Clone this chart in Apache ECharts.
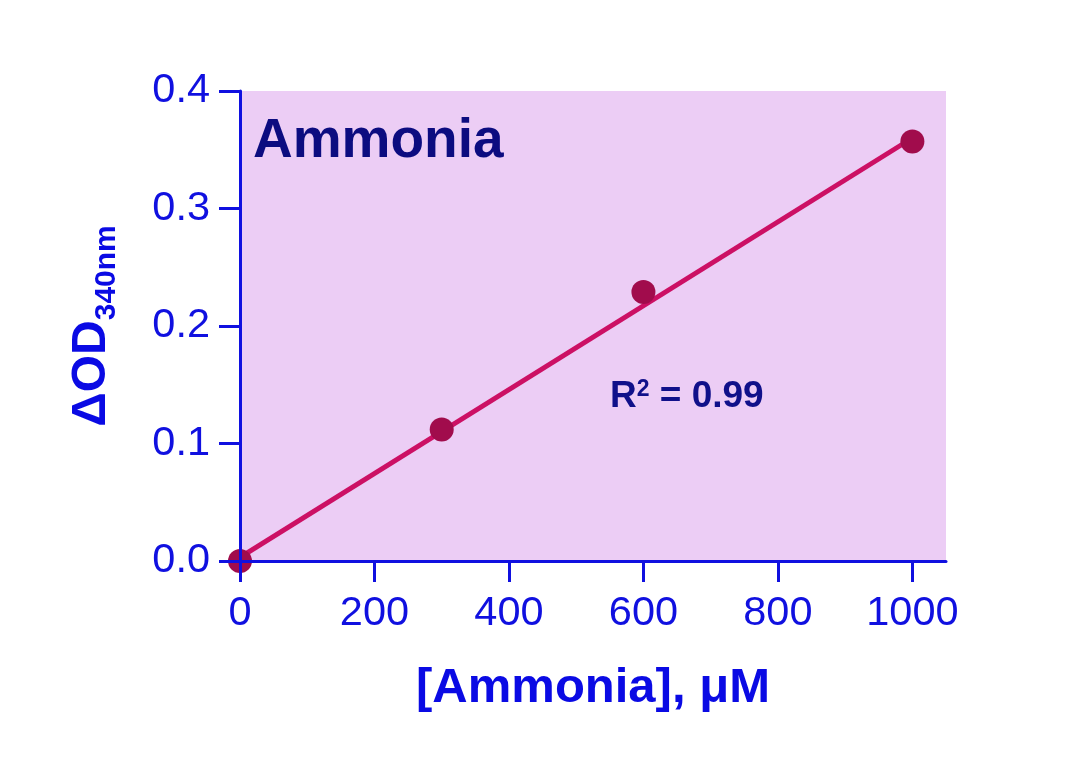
<!DOCTYPE html>
<html><head><meta charset="utf-8">
<script src="https://cdn.jsdelivr.net/npm/echarts@6/dist/echarts.min.js"></script>
<style>html,body{margin:0;padding:0;background:#fff}#c{width:1086px;height:761px}</style>
</head><body><div id="c"></div>
<script>
// Data
const concentrations = [0, 300, 600, 1000];      // [Ammonia], µM
const deltaOD = [0.0, 0.112, 0.229, 0.357];        // ΔOD340nm
const fitX = [0, 1000];                            // fitted line ends
const fitY = [0.003, 0.360];
const xTicks = [0, 200, 400, 600, 800, 1000];
const yTicks = [0, 0.1, 0.2, 0.3, 0.4];
const chartTitle = 'Ammonia';
const r2Value = '0.99';

const FONT = '"Liberation Sans", Arial, sans-serif';
const chart = echarts.init(document.getElementById('c'), null, {renderer: 'canvas'});

const axisBlue = '#1010e0';
const nameBlue = '#0a0ae4';
chart.setOption({
  animation: false,
  backgroundColor: '#ffffff',
  grid: {
    left: 240, top: 91, right: 140, bottom: 200,
    show: true, backgroundColor: '#eccdf5', borderWidth: 0,
    outerBoundsMode: 'none'
  },
  xAxis: {
    type: 'value', min: 0, max: 1050, z: 10,
    axisLine: {show: true, onZero: false, lineStyle: {color: axisBlue, width: 3}},
    axisTick: {show: true, length: 21, lineStyle: {color: axisBlue, width: 3}, customValues: xTicks},
    axisLabel: {color: axisBlue, fontSize: 41.5, fontFamily: FONT, margin: 32, customValues: xTicks,
      formatter: v => String(v)},
    splitLine: {show: false},
    name: '[Ammonia], μM', nameLocation: 'middle', nameGap: 103,
    nameTextStyle: {color: nameBlue, fontSize: 49, fontWeight: 'bold', fontFamily: FONT}
  },
  yAxis: {
    type: 'value', min: 0, max: 0.4, interval: 0.1, z: 10,
    axisLine: {show: true, onZero: false, lineStyle: {color: axisBlue, width: 3}},
    axisTick: {show: true, length: 21, lineStyle: {color: axisBlue, width: 3}, customValues: yTicks},
    axisLabel: {color: axisBlue, fontSize: 41.5, fontFamily: FONT, margin: 30, customValues: yTicks,
      formatter: v => v.toFixed(1)},
    splitLine: {show: false},
    name: '{m|ΔOD}{s|340nm}', nameLocation: 'middle', nameGap: 124, nameRotate: 90,
    nameTextStyle: {
      color: nameBlue, fontFamily: FONT,
      rich: {
        m: {fontSize: 48, fontWeight: 'bold', lineHeight: 48, verticalAlign: 'top', color: nameBlue, fontFamily: FONT},
        s: {fontSize: 30, fontWeight: 'bold', lineHeight: 20, verticalAlign: 'top', padding: [24, 0, 0, 0], color: nameBlue, fontFamily: FONT}
      }
    }
  },
  graphic: [
    {type: 'text', x: 253, y: 142, silent: true,
      style: {text: chartTitle, fill: '#0c0c80', font: 'bold 55px ' + FONT, verticalAlign: 'middle', align: 'left'}},
    {type: 'text', x: 610, y: 397, silent: true,
      style: {text: '{a|R}{s|2}{a| = ' + r2Value + '}', verticalAlign: 'middle', align: 'left',
        rich: {
          a: {fontSize: 37, fontWeight: 'bold', lineHeight: 37, fill: '#10108a', fontFamily: FONT},
          s: {fontSize: 23, fontWeight: 'bold', lineHeight: 25, verticalAlign: 'top', fill: '#10108a', fontFamily: FONT}
        }}}
  ],
  series: [
    {type: 'line', data: fitX.map((x, i) => [x, fitY[i]]), symbol: 'none',
      lineStyle: {color: '#cc1064', width: 5}, z: 2},
    {type: 'scatter', data: concentrations.map((x, i) => [x, deltaOD[i]]), symbolSize: 24,
      itemStyle: {color: '#a10c4c', opacity: 1}, z: 3}
  ]
});
</script></body></html>
